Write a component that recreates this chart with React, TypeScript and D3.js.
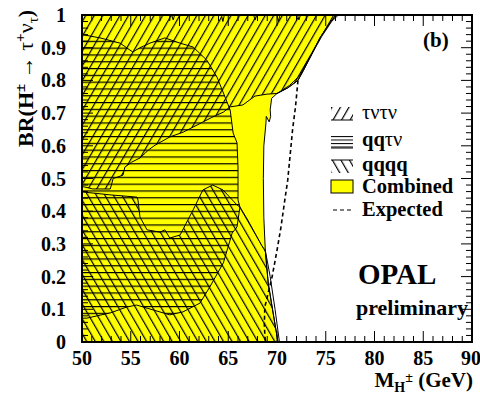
import React from "react";
import * as d3 from "d3";

const W = 480;
const H = 397;
const PL = 82, PR = 472, PT = 15, PB = 342;

const xTicks = [50, 55, 60, 65, 70, 75, 80, 85, 90];
const yTicks = [0, 0.1, 0.2, 0.3, 0.4, 0.5, 0.6, 0.7, 0.8, 0.9, 1];
const yTickLabels = ["0", "0.1", "0.2", "0.3", "0.4", "0.5", "0.6", "0.7", "0.8", "0.9", "1"];

// excluded regions [mass GeV, BR]
const combined: [number, number][] = [
  [50, 0], [70.1, 0], [69.5, 0.107], [69.1, 0.18], [68.8, 0.28], [68.65, 0.38], [68.6, 0.5],
  [68.65, 0.6], [68.87, 0.67], [68.9, 0.69], [69.2, 0.673], [69.35, 0.69], [69.3, 0.71],
  [69.45, 0.745], [70.0, 0.76], [71.1, 0.777], [72.15, 0.8], [72.7, 0.83], [73.4, 0.87],
  [74.4, 0.93], [75.4, 0.975], [76.05, 1], [50, 1],
];

const tauNuTauNu: [number, number][] = [
  [50, 1], [59.2, 1], [59.35, 0.985], [59.5, 1], [64.3, 1], [64.45, 0.98], [64.6, 1],
  [67.6, 1], [67.75, 0.985], [67.9, 1], [70.0, 1], [70.15, 0.98], [70.3, 1], [72.1, 1],
  [72.25, 0.985], [72.4, 1],
  [76.05, 1], [75.4, 0.975], [74.4, 0.93], [73.4, 0.87], [72.7, 0.83], [72.15, 0.8],
  [71.1, 0.777], [70.0, 0.76], [68.97, 0.758], [67.74, 0.752], [66.5, 0.725], [65.2, 0.719],
  [64.5, 0.703], [63.4, 0.688], [60.4, 0.642], [59.0, 0.627], [57.5, 0.602], [56.8, 0.587],
  [56.5, 0.578], [55.95, 0.563], [55.1, 0.55], [54.4, 0.535], [54.2, 0.51], [53.2, 0.5],
  [52.9, 0.468], [51.1, 0.468], [50.3, 0.474], [50, 0.475],
];

const qqTauNu: [number, number][] = [
  [50, 0.94], [51.85, 0.93], [53.9, 0.914], [55.2, 0.887], [55.95, 0.9], [56.97, 0.914],
  [58.5, 0.93], [60.05, 0.914], [61.4, 0.902], [62.8, 0.862], [63.85, 0.81], [64.67, 0.749],
  [65.2, 0.709], [65.5, 0.639], [65.9, 0.609], [66.0, 0.535], [66.0, 0.434], [66.2, 0.413],
  [65.9, 0.352], [65.4, 0.333], [64.5, 0.242], [63.1, 0.168], [62.1, 0.119], [60.35, 0.092],
  [59.0, 0.083], [57.3, 0.098], [55.6, 0.113], [54.6, 0.107], [52.9, 0.089], [50.5, 0.073],
  [50, 0.073],
];

const qqqq: [number, number][] = [
  [50, 0], [70.1, 0], [69.5, 0.107], [69.1, 0.18], [68.8, 0.28], [68.46, 0.294], [67.85, 0.327],
  [67.0, 0.373], [66.2, 0.413], [65.9, 0.419], [64.46, 0.465], [63.4, 0.48], [62.4, 0.465],
  [61.4, 0.404], [60.05, 0.327], [59.0, 0.318], [58.5, 0.343], [58.0, 0.336], [56.67, 0.343],
  [55.95, 0.382], [55.74, 0.434], [55.64, 0.443], [52.87, 0.45], [50, 0.459],
];

const tauNuEdge: [number, number][] = [
  [70.0, 0.76], [71.3, 0.785], [72.35, 0.815], [72.95, 0.85], [73.65, 0.885], [74.6, 0.935],
  [75.6, 0.98], [76.3, 1],
];

const qqqqEdge: [number, number][] = [[68.8, 0.28], [69.3, 0.2], [69.8, 0.1], [70.25, 0]];

const expected: [number, number][] = [
  [72.15, 0.8], [71.9, 0.72], [71.6, 0.65], [71.1, 0.495], [70.8, 0.434], [70.4, 0.35],
  [70.0, 0.28], [69.5, 0.2], [68.75, 0.107], [68.7, 0.05], [68.8, 0],
];

const x = d3.scaleLinear().domain([50, 90]).range([PL, PR]);
const y = d3.scaleLinear().domain([0, 1]).range([PB, PT]);
const line = d3.line<[number, number]>().x((d) => x(d[0])).y((d) => y(d[1]));
const area = (pts: [number, number][]) => line(pts) + "Z";

const FONT = "'Liberation Serif', 'Times New Roman', serif";

export default function App() {
  const xMinor = d3.range(50, 90.001, 1);
  const yMinor = d3.range(0, 1.0001, 0.02);
  return (
    <svg width={W} height={H} style={{ position: "absolute", left: 0, top: 0, background: "#fff" }}
      fontFamily={FONT} fontWeight="bold">
      <defs>
        <pattern id="hF" patternUnits="userSpaceOnUse" width="7.4" height="12" patternTransform="rotate(30)">
          <line x1="0.6" y1="-2" x2="0.6" y2="14" stroke="#000" strokeWidth="1.2" />
        </pattern>
        <pattern id="hB" patternUnits="userSpaceOnUse" width="7.4" height="12" patternTransform="rotate(-30)">
          <line x1="0.6" y1="-2" x2="0.6" y2="14" stroke="#000" strokeWidth="1.2" />
        </pattern>
        <pattern id="hH" patternUnits="userSpaceOnUse" width="12" height="6.8">
          <line x1="-1" y1="0.6" x2="13" y2="0.6" stroke="#000" strokeWidth="1.2" />
        </pattern>
        <pattern id="lH" patternUnits="userSpaceOnUse" width="12" height="3.5" y="136">
          <line x1="-1" y1="0.5" x2="13" y2="0.5" stroke="#000" strokeWidth="1" />
        </pattern>
      </defs>
      <rect x={0} y={0} width={W} height={H} fill="#fff" />
      <path d={area(combined)} fill="#ffff00" stroke="none" />
      <path d={area(qqTauNu)} fill="url(#hH)" stroke="#000" strokeWidth={1} />
      <path d={area(tauNuTauNu)} fill="url(#hF)" stroke="#000" strokeWidth={1} />
      <path d={area(qqqq)} fill="url(#hB)" stroke="#000" strokeWidth={1} />
      <path d={area(combined)} fill="none" stroke="#000" strokeWidth={1} />
      <path d={line(tauNuEdge) || ""} fill="none" stroke="#000" strokeWidth={1} />
      <path d={line(qqqqEdge) || ""} fill="none" stroke="#000" strokeWidth={1} />
      <path d={line(expected) || ""} fill="none" stroke="#000" strokeWidth={1.6} strokeDasharray="4,3" />

      <rect x={PL} y={PT} width={PR - PL} height={PB - PT} fill="none" stroke="#000" strokeWidth={2} />
      {xMinor.map((v, i) => {
        const major = i % 5 === 0;
        const len = major ? 11 : 6;
        return (
          <g key={"xm" + i}>
            <line x1={x(v)} x2={x(v)} y1={PB} y2={PB - len} stroke="#000" strokeWidth={1} />
            <line x1={x(v)} x2={x(v)} y1={PT} y2={PT + len} stroke="#000" strokeWidth={1} />
          </g>
        );
      })}
      {yMinor.map((v, i) => {
        const major = i % 5 === 0;
        const len = major ? 11 : 6;
        return (
          <g key={"ym" + i}>
            <line x1={PL} x2={PL + len} y1={y(v)} y2={y(v)} stroke="#000" strokeWidth={1} />
            <line x1={PR} x2={PR - len} y1={y(v)} y2={y(v)} stroke="#000" strokeWidth={1} />
          </g>
        );
      })}
      {xTicks.map((v) => (
        <text key={"xt" + v} x={v === 90 ? x(v) - 1 : x(v)} y={365} fontSize={20} textAnchor="middle">{v}</text>
      ))}
      {yTicks.map((v, i) => (
        <text key={"yt" + v} x={66} y={y(v) + 7} fontSize={20} textAnchor="end">{yTickLabels[i]}</text>
      ))}
      <text x={473} y={387} fontSize={21} textAnchor="end">
        M<tspan fontSize={14} dy={5}>H</tspan><tspan fontSize={14} dy={-10}>±</tspan><tspan dy={5}> (GeV)</tspan>
      </text>
      <text transform="translate(33,10) rotate(-90)" fontSize={22} textAnchor="end">
        BR(H<tspan fontSize={15} dy={-8}>±</tspan><tspan dy={8} fontWeight="normal"> → τ</tspan>
        <tspan fontSize={15} dy={-8}>+</tspan><tspan dy={8} fontWeight="normal">ν</tspan>
        <tspan fontSize={15} dy={5} fontWeight="normal">τ</tspan><tspan dy={-5}>)</tspan>
      </text>
      <text x={423} y={47} fontSize={21}>(b)</text>
      {/* legend */}
      <rect x={331} y={107} width={22} height={13} fill="url(#hF)" />
      <line x1={331} x2={353} y1={120} y2={120} stroke="#000" strokeWidth={1} />
      <text x={362} y={119} fontSize={20.5} fontWeight="normal">τντν</text>
      <rect x={331} y={136} width={22} height={12} fill="url(#lH)" />
      <line x1={331} x2={353} y1={148} y2={148} stroke="#000" strokeWidth={1} />
      <text x={362} y={146} fontSize={20.5}>qq<tspan fontWeight="normal">τν</tspan></text>
      <rect x={331} y={160} width={22} height={13} fill="url(#hB)" />
      <line x1={331} x2={353} y1={160} y2={160} stroke="#000" strokeWidth={1} />
      <text x={362} y={171} fontSize={20.5}>qqqq</text>
      <rect x={331} y={180} width={22} height={13} fill="#ffff00" stroke="#000" strokeWidth={1} />
      <text x={362} y={193} fontSize={20.5}>Combined</text>
      <line x1={333} x2={353} y1={210} y2={210} stroke="#000" strokeWidth={1.2} strokeDasharray="4,3" />
      <text x={362} y={216} fontSize={20.5}>Expected</text>
      <text x={358} y={284} fontSize={29}>OPAL</text>
      <text x={356} y={315} fontSize={22}>preliminary</text>
    </svg>
  );
}
